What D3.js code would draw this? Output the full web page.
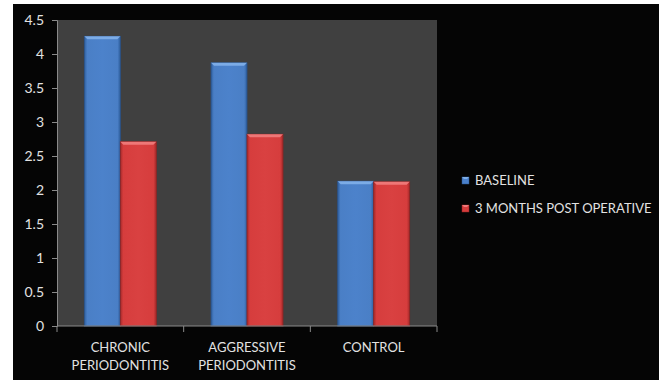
<!DOCTYPE html>
<html>
<head>
<meta charset="utf-8">
<script src="https://cdn.jsdelivr.net/npm/d3@7"></script>
<style>
  html, body { margin: 0; padding: 0; background: #fff; }
  svg { display: block; }
</style>
</head>
<body>
<svg id="chart" width="659" height="380"></svg>
<script>
// Mean values per group, before surgery and three months after
const categories = [["CHRONIC", "PERIODONTITIS"], ["AGGRESSIVE", "PERIODONTITIS"], ["CONTROL"]];
const seriesNames = ["BASELINE", "3 MONTHS POST OPERATIVE"];
const baseline = [4.26, 3.87, 2.13];
const postOperative = [2.71, 2.82, 2.12];
const yTicks = [0, 0.5, 1, 1.5, 2, 2.5, 3, 3.5, 4, 4.5];

const svg = d3.select("#chart");
const W = 659, H = 380;
const plot = { left: 57, right: 437, top: 20, bottom: 326 };
const font = "Lato, 'Open Sans', sans-serif";
const textColor = "#e2e2e2";

// black canvas
svg.append("rect").attr("x", 13).attr("y", 4).attr("width", W - 13).attr("height", H - 4).attr("fill", "#050505");

const defs = svg.append("defs");
function bevelGrad(id, stops) {
  const g = defs.append("linearGradient").attr("id", id).attr("x1", 0).attr("x2", 1).attr("y1", 0).attr("y2", 0);
  stops.forEach(s => g.append("stop").attr("offset", s[0]).attr("stop-color", s[1]));
}
bevelGrad("gBlue", [[0, "#2f5f9e"], [0.08, "#4a7fc6"], [0.5, "#4c82cb"], [0.92, "#4a7fc6"], [1, "#2f5f9e"]]);
bevelGrad("gRed", [[0, "#a42a2a"], [0.08, "#d63d3d"], [0.5, "#d94141"], [0.92, "#d63d3d"], [1, "#a42a2a"]]);
const palette = [
  { fill: "url(#gBlue)", top: "#7eaee8", edge: "#2a548c", legend: "#4a80cc" },
  { fill: "url(#gRed)", top: "#ef7a7a", edge: "#922424", legend: "#d63d3d" }
];

// plot area
svg.append("rect").attr("x", plot.left).attr("y", plot.top)
  .attr("width", plot.right - plot.left).attr("height", plot.bottom - plot.top).attr("fill", "#404040");

const y = d3.scaleLinear().domain([0, 4.5]).range([plot.bottom, plot.top]);
const x0 = d3.scaleBand().domain(d3.range(categories.length)).range([plot.left, plot.right]).padding(0);
const x1 = d3.scaleBand().domain(d3.range(seriesNames.length)).range([0, x0.bandwidth()])
  .paddingInner(0).paddingOuter(0.76);

const values = [baseline, postOperative];

// bars
const groups = svg.append("g").selectAll("g").data(categories).join("g")
  .attr("transform", (d, i) => `translate(${x0(i)},0)`);

groups.each(function (cat, ci) {
  const g = d3.select(this);
  values.forEach((vals, si) => {
    const v = vals[ci];
    const bx = x1(si), bw = x1.bandwidth();
    const top = y(v), base = y(0);
    const p = palette[si];
    g.append("rect").attr("x", bx).attr("y", top).attr("width", bw).attr("height", base - top)
      .attr("fill", p.fill).attr("stroke", p.edge).attr("stroke-width", 0.8);
    // bevelled cap
    const b = 3;
    g.append("path")
      .attr("d", `M${bx},${top} L${bx + bw},${top} L${bx + bw - b},${top + b} L${bx + b},${top + b} Z`)
      .attr("fill", p.top).attr("opacity", 0.95);
  });
});

// y axis
const yAxis = svg.append("g").attr("transform", `translate(${plot.left},0)`)
  .call(d3.axisLeft(y).tickValues(yTicks).tickFormat(d3.format("")).tickSize(5).tickPadding(8));
yAxis.select(".domain").attr("stroke", "#8a8a8a");
yAxis.selectAll(".tick line").attr("stroke", "#8a8a8a");
yAxis.selectAll(".tick text").attr("fill", textColor).style("font-family", font).style("font-size", "14px");

// x axis with boundary ticks
const xAxisG = svg.append("g");
xAxisG.append("line").attr("x1", plot.left).attr("x2", plot.right).attr("y1", y(0)).attr("y2", y(0)).attr("stroke", "#8a8a8a");
const bounds = d3.range(categories.length + 1).map(i => i < categories.length ? x0(i) : x0(i - 1) + x0.bandwidth());
xAxisG.selectAll("line.tk").data(bounds).join("line").attr("class", "tk")
  .attr("x1", d => d).attr("x2", d => d).attr("y1", y(0)).attr("y2", y(0) + 6).attr("stroke", "#8a8a8a");

// category labels
categories.forEach((lines, i) => {
  const t = svg.append("text").attr("text-anchor", "middle").attr("fill", textColor)
    .style("font-family", font).style("font-size", "13px");
  lines.forEach((ln, k) => {
    t.append("tspan").attr("x", x0(i) + x0.bandwidth() / 2).attr("y", 352 + k * 18).text(ln);
  });
});

// legend
const legend = svg.append("g");
seriesNames.forEach((name, i) => {
  const ly = 177 + i * 28;
  legend.append("rect").attr("x", 462).attr("y", ly).attr("width", 7).attr("height", 7)
    .attr("fill", palette[i].legend).attr("stroke", palette[i].edge).attr("stroke-width", 0.5);
  legend.append("path").attr("d", `M462,${ly} L469,${ly} L467,${ly + 2} L464,${ly + 2} Z`).attr("fill", palette[i].top);
  legend.append("text").attr("x", 475).attr("y", ly + 7.5).attr("fill", textColor)
    .style("font-family", font).style("font-size", "13px").text(name);
});
</script>
</body>
</html>
